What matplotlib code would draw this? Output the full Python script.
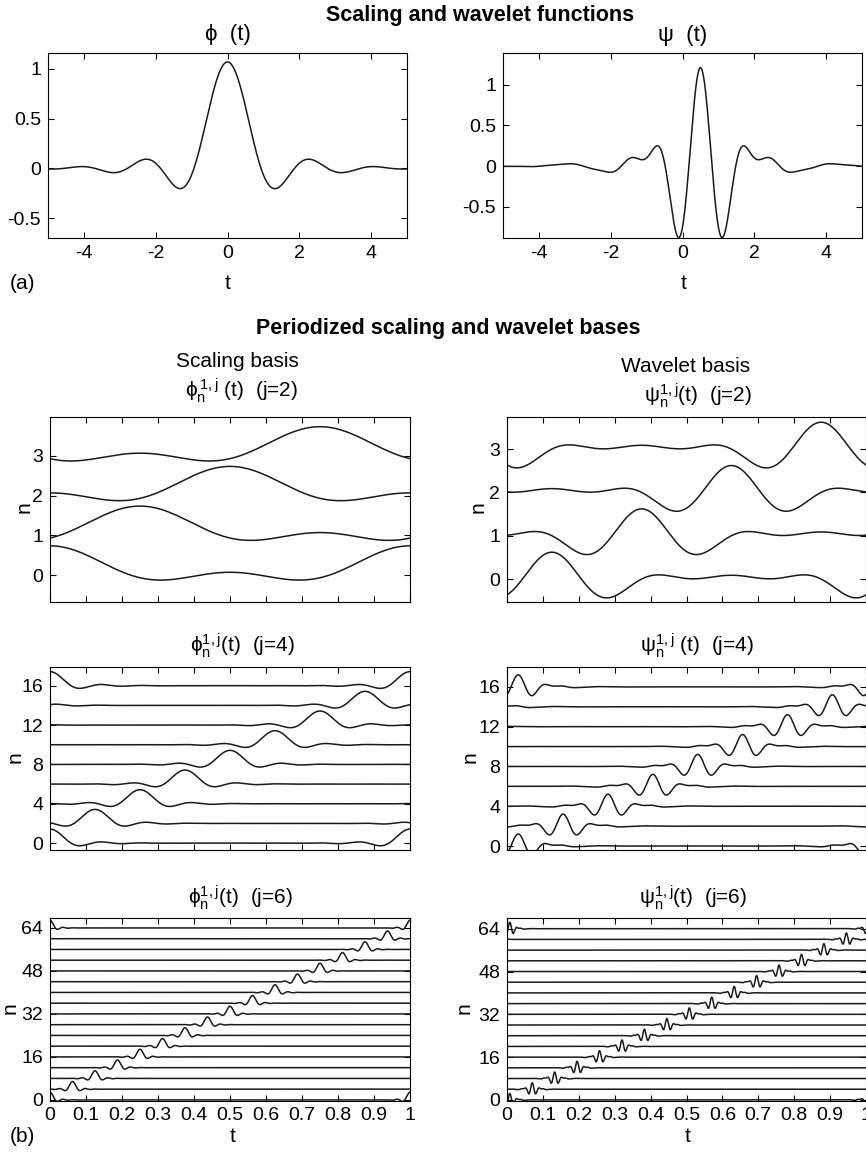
import numpy as np
import matplotlib
matplotlib.use('Agg')
import matplotlib.pyplot as plt

plt.rcParams['font.family'] = ['Liberation Sans', 'DejaVu Sans']
plt.rcParams['mathtext.fontset'] = 'dejavusans'

# levels shown in the periodized panels and the translations n drawn for each
J_LEVELS = [2, 4, 6]
N_SHOWN = {2: [0, 1, 2, 3],
           4: [0, 2, 4, 6, 8, 10, 12, 14, 16],
           6: [0, 4, 8, 12, 16, 20, 24, 28, 32, 36, 40, 44, 48, 52, 56, 60, 64]}
# vertical scale of each basis function relative to 2^(j/2)
PHI_SCALE = 1 / 3
PSI_SCALE = 0.25

# axis limits and ticks
TOP_XTICKS = [-4, -2, 0, 2, 4]
TOP_YTICKS = [-0.5, 0, 0.5, 1]
PHI_YLIM = (-0.70, 1.16)
PSI_YLIM = (-0.885, 1.39)
BASIS_XTICKS = [0, 0.1, 0.2, 0.3, 0.4, 0.5, 0.6, 0.7, 0.8, 0.9, 1]
BASIS_XLABELS = ['0', '0.1', '0.2', '0.3', '0.4', '0.5', '0.6', '0.7', '0.8', '0.9', '1']
BASIS_YTICKS = {2: [0, 1, 2, 3], 4: [0, 4, 8, 12, 16], 6: [0, 16, 32, 48, 64]}
PHI_BASIS_YLIM = {2: (-0.68, 3.98), 4: (-0.7, 17.9), 6: (-0.4, 67.7)}
PSI_BASIS_YLIM = {2: (-0.53, 3.74), 4: (-0.4, 18.0), 6: (-0.4, 68.0)}


# Meyer scaling function / wavelet from their Fourier transforms
# (cubic transition nu(x) = x^2 (3 - 2x))
def nu(x):
    x = np.clip(x, 0, 1)
    return x**2 * (3 - 2*x)


def phi_hat(w):
    w = np.abs(w)
    out = np.zeros_like(w, dtype=float)
    out[w <= 2*np.pi/3] = 1.0
    m = (w > 2*np.pi/3) & (w <= 4*np.pi/3)
    out[m] = np.cos(np.pi/2 * nu(3*w[m]/(2*np.pi) - 1))
    return out


def psi_hat_abs(w):
    w = np.abs(w)
    out = np.zeros_like(w, dtype=float)
    m1 = (w >= 2*np.pi/3) & (w <= 4*np.pi/3)
    out[m1] = np.sin(np.pi/2 * nu(3*w[m1]/(2*np.pi) - 1))
    m2 = (w > 4*np.pi/3) & (w <= 8*np.pi/3)
    out[m2] = np.cos(np.pi/2 * nu(3*w[m2]/(4*np.pi) - 1))
    return out


def meyer_phi(t):
    w = np.linspace(0, 4*np.pi/3, 4001)
    return np.trapezoid(phi_hat(w)[None, :] * np.cos(np.outer(t, w)), w, axis=1) / np.pi


def meyer_psi(t):
    w = np.linspace(0, 8*np.pi/3, 8001)
    return np.trapezoid(psi_hat_abs(w)[None, :] * np.cos(np.outer(t - 0.5, w)), w, axis=1) / np.pi


def periodized(t, j, n, kind):
    # sum over period shifts done with Poisson summation
    P = 2**j
    m = np.arange(-2*P, 2*P + 1)
    w = 2*np.pi*m/P
    s = P*t - n
    if kind == 'phi':
        coef, shift = phi_hat(w), 0.0
    else:
        coef, shift = psi_hat_abs(w), 0.5
    per = (coef[None, :] * np.cos(np.outer(s - shift, w))).sum(axis=1) / P
    return 2**(j/2) * per


W, H = 866, 1154
fig = plt.figure(figsize=(W/100, H/100), dpi=100)


def add_ax(x0, y0, x1, y1):
    return fig.add_axes([x0/W, 1 - y1/H, (x1 - x0)/W, (y1 - y0)/H])


def txt(x, y, s, **kw):
    kw.setdefault('ha', 'center')
    kw.setdefault('va', 'baseline')
    kw.setdefault('fontsize', 15)
    fig.text(x/W, 1 - y/H, s, **kw)


def style(ax):
    ax.tick_params(direction='in', top=True, right=True, length=4, width=0.8,
                   labelsize=14, pad=5)
    for sp in ax.spines.values():
        sp.set_linewidth(0.8)


line_kw = dict(color='#1a1a1a', lw=1.1)

# (a) scaling and wavelet functions
t_top = np.linspace(-5, 5, 1201)
ax = add_ax(48, 53, 407, 238)
ax.plot(t_top, meyer_phi(t_top), **line_kw)
ax.set_xlim(-5, 5)
ax.set_ylim(*PHI_YLIM)
ax.set_xticks(TOP_XTICKS)
ax.set_yticks(TOP_YTICKS)
ax.set_yticklabels(['-0.5', '0', '0.5', '1'])
ax.set_xticklabels(['-4', '-2', '0', '2', '4'])
style(ax)

ax = add_ax(503, 53, 862, 238)
ax.plot(t_top, meyer_psi(t_top), **line_kw)
ax.set_xlim(-5, 5)
ax.set_ylim(*PSI_YLIM)
ax.set_xticks(TOP_XTICKS)
ax.set_yticks(TOP_YTICKS)
ax.set_yticklabels(['-0.5', '0', '0.5', '1'])
ax.set_xticklabels(['-4', '-2', '0', '2', '4'])
style(ax)

txt(480, 21, 'Scaling and wavelet functions', fontweight='bold', fontsize=15.5)
txt(228, 40, 'ϕ  (t)', fontsize=16)
txt(683, 41, 'ψ  (t)', fontsize=16)
txt(228, 289, 't')
txt(684, 289, 't')
txt(10, 289, '(a)', ha='left')

# (b) periodized bases
t = np.linspace(0, 1, 1501)
rows = {2: (417, 602), 4: (667, 850), 6: (918, 1101)}
for j in J_LEVELS:
    y0, y1 = rows[j]
    for col, kind, scale, ylim, x0, x1 in [
            (0, 'phi', PHI_SCALE, PHI_BASIS_YLIM, 50, 410),
            (1, 'psi', PSI_SCALE, PSI_BASIS_YLIM, 507, 866)]:
        ax = add_ax(x0, y0, x1, y1)
        for n in N_SHOWN[j]:
            ax.plot(t, n + scale*periodized(t, j, n % 2**j, kind), **line_kw)
        ax.set_xlim(0, 1)
        ax.set_ylim(*ylim[j])
        ax.set_xticks(BASIS_XTICKS)
        ax.set_yticks(BASIS_YTICKS[j])
        if j == 6:
            ax.set_xticklabels(BASIS_XLABELS)
        else:
            ax.set_xticklabels([])
        style(ax)
        ax.tick_params(axis='x', pad=4)

txt(448, 334, 'Periodized scaling and wavelet bases', fontweight='bold', fontsize=15.5)
txt(237, 367, 'Scaling basis')
txt(686, 372, 'Wavelet basis')
txt(242, 397, r'$\mathregular{\phi_n^{\,1,j}}$ (t)  (j=2)')
txt(698, 402, r'$\mathregular{\psi_n^{1,j}}$(t)  (j=2)')
txt(243, 652, r'$\mathregular{\phi_n^{1,j}}$(t)  (j=4)')
txt(697, 652, r'$\mathregular{\psi_n^{1,j}}$ (t)  (j=4)')
txt(241, 904, r'$\mathregular{\phi_n^{1,j}}$(t)  (j=6)')
txt(693, 904, r'$\mathregular{\psi_n^{1,j}}$(t)  (j=6)')

for x, y in [(24, 507), (15, 757), (10, 1008), (478, 507), (470, 757), (464, 1008)]:
    txt(x, y, 'n', va='center', rotation=90)
txt(233, 1142, 't')
txt(688, 1142, 't')
txt(10, 1142, '(b)', ha='left')

fig.savefig('out.png', dpi=100)
